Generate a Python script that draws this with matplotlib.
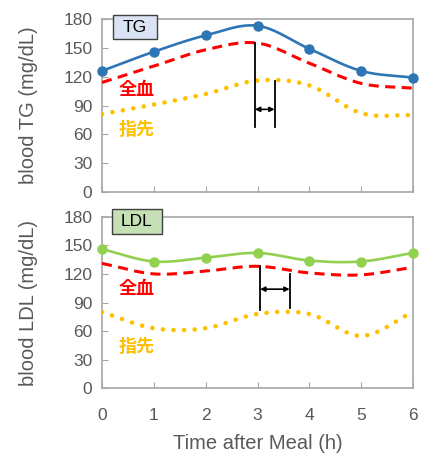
import matplotlib
matplotlib.use('Agg')
import matplotlib.pyplot as plt
from matplotlib.patches import Rectangle
import numpy as np

plt.rcParams['font.family'] = ['Liberation Sans', 'Noto Sans CJK JP', 'DejaVu Sans']

hours = [0, 1, 2, 3, 4, 5, 6]
yticks = [0, 30, 60, 90, 120, 150, 180]

# TG panel
tg_meter = [126, 146, 163, 173, 149, 126, 119]
tg_whole = [114, 131, 148, 155, 134, 113, 108]
tg_finger = [81, 91, 102, 116, 111, 82, 80]
tg_lag = [2.95, 3.33]      # peak times of whole / finger
tg_lag_top = [155, 116]
tg_lag_bottom = [68, 68]
tg_arrow_y = 86

# LDL panel
ldl_meter = [146, 133, 137, 142, 134, 133, 142]
ldl_whole = [131, 120, 123, 128, 121, 119, 127]
ldl_finger = [80, 63, 63, 78, 78, 55, 80]
ldl_lag = [3.05, 3.62]
ldl_lag_top = [128, 120]
ldl_lag_bottom = [82, 84]
ldl_arrow_y = 104

BLUE = '#2e75b6'
GREEN = '#92d050'
RED = '#ff0000'
YELLOW = '#ffc000'
GRAY = '#595959'
SPINE = '#a6a6a6'


def smooth(x, y, n=24):
    # Catmull-Rom, like Excel's smoothed line
    x = np.asarray(x, float)
    y = np.asarray(y, float)
    px = np.concatenate([[2 * x[0] - x[1]], x, [2 * x[-1] - x[-2]]])
    py = np.concatenate([[2 * y[0] - y[1]], y, [2 * y[-1] - y[-2]]])
    xs, ys = [], []
    for i in range(1, len(px) - 2):
        t = np.linspace(0, 1, n, endpoint=False)
        m0 = (py[i + 1] - py[i - 1]) / 2
        m1 = (py[i + 2] - py[i]) / 2
        h00 = 2 * t**3 - 3 * t**2 + 1
        h10 = t**3 - 2 * t**2 + t
        h01 = -2 * t**3 + 3 * t**2
        h11 = t**3 - t**2
        xs.append(px[i] + t * (px[i + 1] - px[i]))
        ys.append(h00 * py[i] + h10 * m0 + h01 * py[i + 1] + h11 * m1)
    xs.append([x[-1]])
    ys.append([y[-1]])
    return np.concatenate(xs), np.concatenate(ys)


def panel(ax, meter, whole, finger, color, label, box, boxcolor, ylabel,
          red_y, yel_y):
    sx, sy = smooth(hours, meter)
    ax.plot(sx, sy, color=color, lw=1.9, zorder=4)
    ax.plot(hours, meter, 'o', color=color, ms=6.5, zorder=5, clip_on=False)
    sx, sy = smooth(hours, whole)
    ax.plot(sx, sy, color=RED, lw=2.2, dashes=(3.3, 2.1), zorder=3)
    sx, sy = smooth(hours, finger)
    ax.plot(sx, sy, color=YELLOW, lw=3.3, dashes=(0.01, 2.3),
            dash_capstyle='round', zorder=3)

    ax.set_xlim(0, 6)
    ax.set_ylim(0, 180)
    ax.set_xticks(hours)
    ax.set_yticks(yticks)
    ax.tick_params(direction='in', length=4, color=SPINE, labelcolor=GRAY,
                   labelsize=12.5, pad=7)
    ax.tick_params(axis='x', pad=14)
    for s in ax.spines.values():
        s.set_color(SPINE)
        s.set_linewidth(1.2)
    ax.set_ylabel(ylabel, fontsize=14.5, color=GRAY, labelpad=18)

    x0, y0, w, h = box
    ax.add_patch(Rectangle((x0, y0), w, h, transform=ax.transAxes,
                           fc=boxcolor, ec='#404040', lw=1.0, zorder=6,
                           clip_on=False))
    ax.text(x0 + w / 2, y0 + h / 2, label, transform=ax.transAxes,
            ha='center', va='center', fontsize=12.5, color='black', zorder=7)
    ax.text(0.33, red_y, '全血', color=RED, fontsize=13, fontweight='bold',
            family=['Noto Sans CJK JP'], ha='left', va='center')
    ax.text(0.33, yel_y, '指先', color=YELLOW, fontsize=13, fontweight='bold',
            family=['Noto Sans CJK JP'], ha='left', va='center')


def lag_marks(ax, times, tops, bottoms, arrow_y):
    for t, top, bot in zip(times, tops, bottoms):
        ax.plot([t, t], [bot, top], color='black', lw=1.3, zorder=6)
    ax.annotate('', xy=(times[1], arrow_y), xytext=(times[0], arrow_y),
                arrowprops=dict(arrowstyle='<|-|>', color='black', lw=1.2,
                                mutation_scale=7, shrinkA=0, shrinkB=0),
                zorder=6)


fig = plt.figure(figsize=(4.21, 4.54), dpi=100)
ax1 = fig.add_axes([0.2423, 0.5771, 0.7387, 0.381])
ax2 = fig.add_axes([0.2423, 0.1447, 0.7387, 0.378])

panel(ax1, tg_meter, tg_whole, tg_finger, BLUE, 'TG',
      (0.035, 0.884, 0.142, 0.139), '#dae3f3', 'blood TG (mg/dL)', 107, 65)
ax1.tick_params(labelbottom=False)
lag_marks(ax1, tg_lag, tg_lag_top, tg_lag_bottom, tg_arrow_y)

panel(ax2, ldl_meter, ldl_whole, ldl_finger, GREEN, 'LDL',
      (0.031, 0.899, 0.163, 0.146), '#c5e0b4', 'blood LDL (mg/dL)', 105, 44)
lag_marks(ax2, ldl_lag, ldl_lag_top, ldl_lag_bottom, ldl_arrow_y)
ax2.set_xlabel('Time after Meal (h)', fontsize=14.5, color=GRAY, labelpad=8)

fig.savefig('out.png', dpi=100)
